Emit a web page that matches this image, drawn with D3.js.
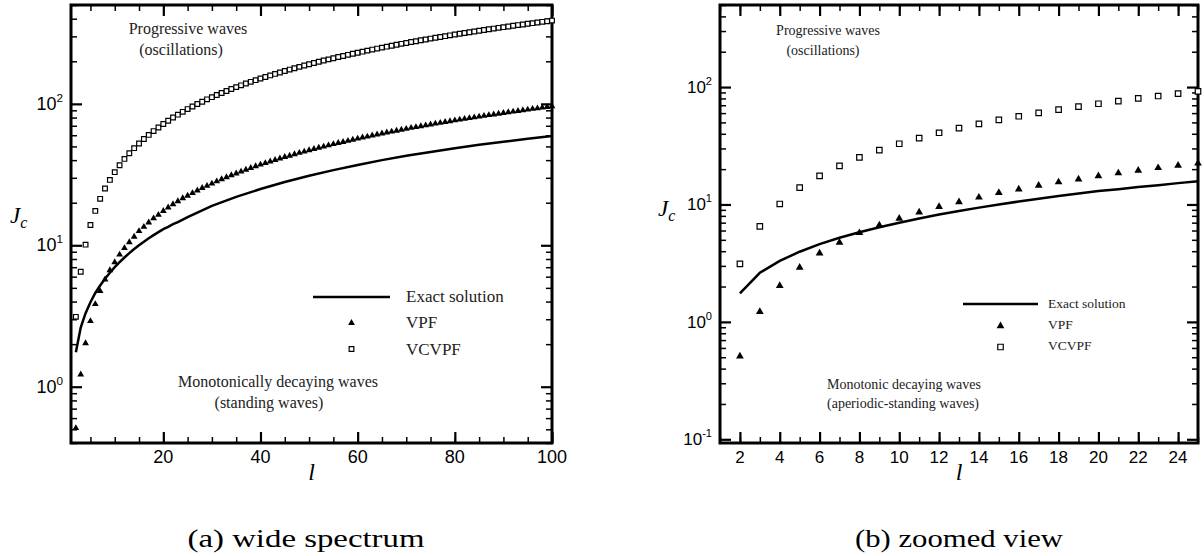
<!DOCTYPE html>
<html>
<head>
<meta charset="utf-8">
<script src="https://cdn.jsdelivr.net/npm/d3@7"></script>
<style>
  body { margin: 0; background: #fff; }
  svg { display: block; }
</style>
</head>
<body>
<svg id="chart" width="1204" height="556"></svg>
<script>
// wave number l, every integer from 2 to 100
const lValues = d3.range(2, 101);

// VPF (filled triangles)
const vpf = [0.51, 1.22, 2.03, 2.91, 3.84, 4.74, 5.73, 6.66, 7.59, 8.6, 9.55, 10.5, 11.5, 12.6, 13.5, 14.5, 15.5, 16.4, 17.5, 18.5, 19.5, 20.5, 21.5, 22.4,
  23.4, 24.4, 25.4, 26.3, 27.3, 28.3, 29.3, 30.3, 31.3, 32.2, 33.2, 34.2, 35.2, 36.2, 37.2, 38.1, 39.1, 40.1, 41.1, 42.1, 43.0, 44.0, 45.0, 46.0, 47.0,
  48.0, 48.9, 49.9, 50.9, 51.9, 52.9, 53.8, 54.8, 55.8, 56.8, 57.8, 58.7, 59.7, 60.7, 61.7, 62.7, 63.6, 64.6, 65.6, 66.6, 67.6, 68.5, 69.5, 70.5, 71.5,
  72.5, 73.4, 74.4, 75.4, 76.4, 77.4, 78.3, 79.3, 80.3, 81.3, 82.3, 83.2, 84.2, 85.2, 86.2, 87.2, 88.1, 89.1, 90.1, 91.1, 92.1, 93.0, 94.0, 95.0, 96.0];

// VCVPF (open squares)
const vcvpf = [3.12, 6.5, 10.1, 13.9, 17.5, 21.3, 25.2, 29.0, 32.9, 36.8, 40.8, 44.7, 48.6, 52.5, 56.4, 60.3, 64.2, 68.1, 72.1, 76.0, 80.0, 83.9, 87.8, 91.8,
  95.7, 99.7, 103.6, 107.6, 111.5, 115.5, 119.4, 123.4, 127.3, 131.3, 135.2, 139.2, 143.1, 147.1, 151.0, 155.0, 158.9, 162.9, 166.8, 170.8, 174.7,
  178.7, 182.6, 186.6, 190.5, 194.5, 198.4, 202.4, 206.3, 210.3, 214.2, 218.2, 222.1, 226.1, 230.0, 234.0, 237.9, 241.9, 245.8, 249.8, 253.7,
  257.7, 261.6, 265.6, 269.5, 273.5, 277.4, 281.4, 285.3, 289.3, 293.2, 297.2, 301.1, 305.1, 309.0, 313.0, 316.9, 320.9, 324.8, 328.8, 332.7,
  336.7, 340.6, 344.6, 348.5, 352.5, 356.4, 360.4, 364.3, 368.3, 372.2, 376.2, 380.1, 384.1, 388.0];

// exact solution (solid line)
const exactL = [2, 3, 4, 5, 6, 7, 8, 9, 10, 11, 12, 13, 14, 15, 16, 17, 18, 19, 20, 21, 22, 23, 24, 25,
  30, 35, 40, 45, 50, 55, 60, 65, 70, 75, 80, 85, 90, 95, 100];
const exactJ = [1.75, 2.62, 3.31, 3.96, 4.6, 5.2, 5.8, 6.4, 7.0, 7.6, 8.2, 8.8, 9.4, 10.0, 10.6, 11.2, 11.8, 12.4, 13.0, 13.5, 14.1, 14.6, 15.2, 15.8,
  19.0, 22.0, 25.0, 28.0, 31.0, 34.0, 37.0, 40.0, 42.9, 45.7, 48.5, 51.3, 54.0, 56.6, 59.2];

const legendLabels = ["Exact solution", "VPF", "VCVPF"];

const svg = d3.select("#chart");
const serif = "'Liberation Serif', 'Times New Roman', serif";
const sans = "'Liberation Sans', Arial, sans-serif";

const panels = [
  {
    left: 71, top: 5, right: 552, bottom: 443,
    xDomain: [1, 100], yDomain: [0.4, 500], lMax: 100,
    xMajor: [20, 40, 60, 80, 100], xMinor: d3.range(5, 101, 5),
    tickFont: 18, textFont: 16, legFont: 17,
    triSize: 20, sqSize: 22,
    jc: [10, 223],
    top1: ["Progressive waves", 188, 34], top2: ["(oscillations)", 181, 55],
    bot1: ["Monotonically decaying waves", 278, 387], bot2: ["(standing waves)", 269, 408],
    leg: { x1: 313, x2: 390, tx: 406, ys: [297, 323, 349], tys: [302, 328, 355] },
    caption: ["(a) wide spectrum", 306, 237]
  },
  {
    left: 720, top: 5, right: 1198, bottom: 443,
    xDomain: [1, 25], yDomain: [0.093, 500], lMax: 25,
    xMajor: d3.range(2, 25, 2), xMinor: d3.range(1, 26),
    tickFont: 17, textFont: 14, legFont: 13.5,
    triSize: 26, sqSize: 30,
    jc: [658, 216],
    top1: ["Progressive waves", 828, 35], top2: ["(oscillations)", 823, 55],
    bot1: ["Monotonic decaying waves", 904, 389], bot2: ["(aperiodic-standing waves)", 903, 408],
    leg: { x1: 963, x2: 1038, tx: 1048, ys: [304, 326, 347], tys: [308, 329, 350] },
    caption: ["(b) zoomed view", 959, 208]
  }
];

panels.forEach((p) => {
  const g = svg.append("g");
  const x = d3.scaleLinear().domain(p.xDomain).range([p.left, p.right]);
  const y = d3.scaleLog().domain(p.yDomain).range([p.bottom, p.top]);

  // log ticks: decades and 2..9 minors inside the domain
  const decades = [];
  const minors = [];
  for (let d = -2; d <= 3; d++) {
    const v = Math.pow(10, d);
    if (v >= p.yDomain[0] && v <= p.yDomain[1]) decades.push(v);
    for (let k = 2; k <= 9; k++) {
      const m = k * v;
      if (m >= p.yDomain[0] && m <= p.yDomain[1]) minors.push(m);
    }
  }

  const axes = [
    [d3.axisBottom(x), `translate(0,${p.bottom})`, p.xMajor, p.xMinor],
    [d3.axisTop(x), `translate(0,${p.top})`, p.xMajor, p.xMinor],
    [d3.axisLeft(y), `translate(${p.left},0)`, decades, minors],
    [d3.axisRight(y), `translate(${p.right},0)`, decades, minors]
  ];
  axes.forEach(([ax, tr, major, minor]) => {
    const a1 = g.append("g").attr("transform", tr)
      .call(ax.tickValues(minor).tickSize(-6).tickFormat(""));
    a1.selectAll("line").attr("stroke", "#000").attr("stroke-width", 1.5);
    a1.select(".domain").remove();
    const a2 = g.append("g").attr("transform", tr)
      .call(ax.tickValues(major).tickSize(-11).tickFormat(""));
    a2.selectAll("line").attr("stroke", "#000").attr("stroke-width", 2.2);
    a2.select(".domain").remove();
  });

  // frame
  g.append("rect")
    .attr("x", p.left).attr("y", p.top)
    .attr("width", p.right - p.left).attr("height", p.bottom - p.top)
    .attr("fill", "none").attr("stroke", "#000").attr("stroke-width", 3);

  // x tick labels
  g.selectAll(".xl").data(p.xMajor).enter().append("text")
    .attr("x", (d) => x(d)).attr("y", p.bottom + 20)
    .attr("text-anchor", "middle")
    .style("font-family", sans).style("font-size", p.tickFont + "px")
    .text((d) => d);

  // y tick labels 10^n
  decades.forEach((v) => {
    const t = g.append("text")
      .attr("x", p.left - 8).attr("y", y(v) + 6)
      .attr("text-anchor", "end")
      .style("font-family", sans).style("font-size", p.tickFont + "px");
    t.append("tspan").text("10");
    t.append("tspan").attr("dy", -8).style("font-size", (p.tickFont * 0.65) + "px")
      .text(Math.round(Math.log10(v)));
  });

  // axis titles
  const jt = g.append("text").attr("x", p.jc[0]).attr("y", p.jc[1])
    .style("font-family", serif).style("font-style", "italic").style("font-size", "23px");
  jt.append("tspan").text("J");
  jt.append("tspan").attr("dy", 5).style("font-size", "16px").text("c");

  g.append("text").attr("x", (p.left + p.right) / 2).attr("y", p.bottom + 37)
    .attr("text-anchor", "middle")
    .style("font-family", serif).style("font-style", "italic").style("font-size", "24px")
    .text("l");

  // annotations
  [p.top1, p.top2, p.bot1, p.bot2].forEach(([txt, tx, ty]) => {
    g.append("text").attr("x", tx).attr("y", ty).attr("text-anchor", "middle")
      .style("font-family", serif).style("font-size", p.textFont + "px")
      .attr("fill", "#222").text(txt);
  });

  // data
  const exact = exactL.map((l, i) => ({ l, v: exactJ[i] })).filter((d) => d.l <= p.lMax);
  const tri = lValues.map((l, i) => ({ l, v: vpf[i] })).filter((d) => d.l <= p.lMax);
  const sq = lValues.map((l, i) => ({ l, v: vcvpf[i] })).filter((d) => d.l <= p.lMax);

  g.append("path").datum(exact)
    .attr("fill", "none").attr("stroke", "#000").attr("stroke-width", 2.5)
    .attr("d", d3.line().x((d) => x(d.l)).y((d) => y(d.v)));

  const triSym = d3.symbol().type(d3.symbolTriangle).size(p.triSize);
  const sqSym = d3.symbol().type(d3.symbolSquare).size(p.sqSize);

  g.selectAll(".tri").data(tri).enter().append("path")
    .attr("d", triSym)
    .attr("transform", (d) => `translate(${x(d.l)},${y(d.v)})`)
    .attr("fill", "#000");

  g.selectAll(".sq").data(sq).enter().append("path")
    .attr("d", sqSym)
    .attr("transform", (d) => `translate(${x(d.l)},${y(d.v)})`)
    .attr("fill", "#fff").attr("stroke", "#000").attr("stroke-width", 1.2);

  // legend
  const L = p.leg;
  const cx = (L.x1 + L.x2) / 2;
  g.append("line").attr("x1", L.x1).attr("x2", L.x2).attr("y1", L.ys[0]).attr("y2", L.ys[0])
    .attr("stroke", "#000").attr("stroke-width", 2.5);
  g.append("path").attr("d", triSym).attr("transform", `translate(${cx},${L.ys[1]})`).attr("fill", "#000");
  g.append("path").attr("d", sqSym).attr("transform", `translate(${cx},${L.ys[2]})`)
    .attr("fill", "#fff").attr("stroke", "#000").attr("stroke-width", 1.2);
  legendLabels.forEach((txt, i) => {
    g.append("text").attr("x", L.tx).attr("y", L.tys[i])
      .style("font-family", serif).style("font-size", p.legFont + "px")
      .attr("fill", "#222").text(txt);
  });

  // caption
  svg.append("text").attr("x", p.caption[1]).attr("y", 547)
    .attr("text-anchor", "middle")
    .attr("textLength", p.caption[2]).attr("lengthAdjust", "spacingAndGlyphs")
    .style("font-family", serif).style("font-size", "25px")
    .text(p.caption[0]);
});
</script>
</body>
</html>
